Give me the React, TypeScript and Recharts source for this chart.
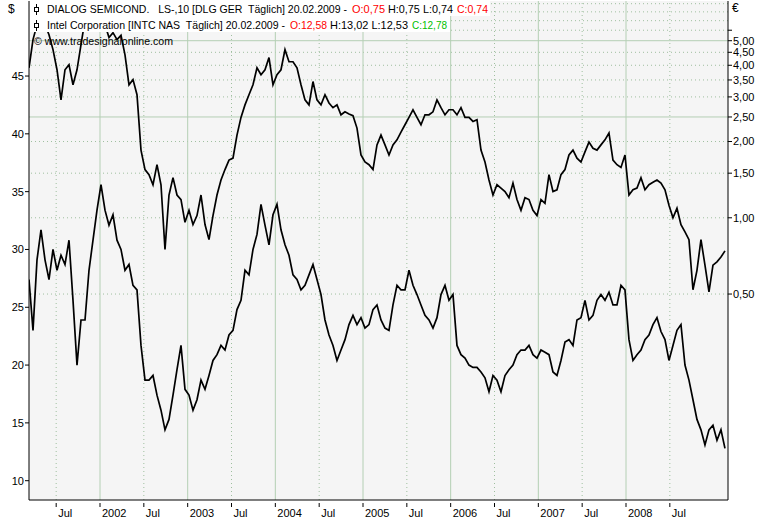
import React from "react"
import { LineChart, Line, XAxis, YAxis, ReferenceLine, CartesianGrid } from "recharts"

// time grid: decimal years, one sample every ~16.7 days
const START_T = 2001.19
const STEP_T = 0.045626
const END_T = 2009.1635

// DIALOG SEMICOND. (EUR, right log axis)
const dialog = [
  3.91, 5.05, 5.78, 6.05, 5.78, 5.28, 4.61, 3.84, 2.92, 3.84,
  4.02, 3.35, 3.84, 4.83, 6.05, 6.63, 6.34, 6.94, 6.63, 5.78,
  5.15, 5.38, 5.05, 5.25, 4.4, 3.35, 3.51, 3.06, 1.85, 1.55,
  1.48, 1.35, 1.62, 1.35, 0.75, 1.23, 1.44, 1.23, 1.18, 0.96,
  1.07, 0.94, 1.02, 1.23, 0.94, 0.82, 1.02, 1.23, 1.41, 1.55,
  1.69, 1.72, 2.12, 2.49, 2.79, 3.06, 3.35, 3.91, 3.67, 3.84,
  4.29, 3.35, 3.67, 3.84, 4.61, 4.13, 4.13, 3.91, 3.35, 2.92,
  2.79, 3.45, 2.92, 2.79, 3.06, 2.84, 2.72, 2.79, 2.55, 2.62,
  2.57, 2.53, 2.26, 1.77, 1.66, 1.62, 1.55, 1.94, 2.12, 1.94,
  1.77, 1.94, 2.03, 2.18, 2.33, 2.49, 2.67, 2.49, 2.33, 2.55,
  2.55, 2.62, 2.92, 2.72, 2.55, 2.67, 2.67, 2.55, 2.72, 2.49,
  2.49, 2.4, 2.44, 1.85, 1.66, 1.41, 1.23, 1.35, 1.31, 1.27,
  1.2, 1.37, 1.18, 1.07, 1.2, 1.18, 1.07, 1.02, 1.18, 1.14,
  1.48, 1.27, 1.29, 1.48, 1.55, 1.77, 1.85, 1.72, 1.66, 1.82,
  1.99, 1.88, 1.85, 1.94, 2.03, 2.16, 1.69, 1.62, 1.58, 1.77,
  1.23, 1.29, 1.31, 1.44, 1.29, 1.35, 1.38, 1.41, 1.37, 1.29,
  1.12, 1.0, 1.09, 0.94, 0.88, 0.82, 0.52, 0.62, 0.82, 0.65,
  0.51, 0.65, 0.67, 0.7, 0.74,
]

// Intel Corporation (USD, left axis)
const intel = [
  27.4, 23.0, 29.1, 31.7, 29.1, 27.4, 30.0, 28.2, 29.5, 28.7,
  30.8, 25.6, 20.0, 23.9, 23.9, 28.2, 30.8, 33.4, 35.6, 33.4,
  32.1, 33.0, 30.8, 30.0, 28.2, 28.7, 26.9, 26.5, 21.7, 18.7,
  18.7, 19.1, 17.4, 16.1, 14.4, 15.3, 17.4, 19.6, 21.7, 17.9,
  17.4, 16.1, 17.0, 18.7, 17.9, 19.1, 20.4, 20.9, 21.7, 21.3,
  22.6, 23.0, 24.8, 25.6, 28.2, 27.8, 30.0, 31.3, 33.9, 32.1,
  30.4, 33.0, 33.9, 31.7, 30.4, 29.5, 27.8, 27.4, 26.5, 26.9,
  27.8, 28.7, 27.4, 26.1, 23.9, 22.6, 21.7, 20.4, 21.3, 22.2,
  23.5, 24.3, 23.5, 24.1, 23.2, 23.5, 24.8, 25.2, 23.9, 23.2,
  23.0, 25.2, 26.9, 26.5, 26.5, 28.2, 26.9, 26.1, 25.2, 24.3,
  23.9, 23.2, 24.1, 26.1, 26.9, 25.6, 26.1, 21.7, 20.9, 20.6,
  20.0, 19.8, 19.8, 19.4, 18.9, 17.7, 19.1, 18.7, 17.7, 19.1,
  19.6, 20.0, 20.9, 21.3, 21.3, 21.7, 20.9, 20.6, 21.3, 21.1,
  20.9, 19.4, 19.1, 20.4, 22.0, 22.2, 21.7, 23.9, 24.1, 25.6,
  23.9, 24.3, 25.6, 26.1, 25.6, 26.3, 25.2, 25.2, 26.9, 26.5,
  22.2, 20.4, 20.9, 21.3, 22.2, 22.6, 23.5, 24.1, 22.9, 22.2,
  20.4, 21.7, 23.0, 23.5, 20.0, 18.7, 17.0, 15.3, 14.4, 13.1,
  14.4, 14.8, 13.5, 14.4, 12.8,
]

const yearTicks = [2002, 2003, 2004, 2005, 2006, 2007, 2008]
const julTicks = [2001.5, 2002.5, 2003.5, 2004.5, 2005.5, 2006.5, 2007.5, 2008.5]
const xTicks = [...julTicks, ...yearTicks].sort((a, b) => a - b)
const usdTicks = [10, 15, 20, 25, 30, 35, 40, 45]
const eurTicks = [0.5, 1, 1.5, 2, 2.5, 3, 3.5, 4, 4.5, 5, 5.5]
const eurGrid = [0.5, 1, 1.5, 2, 3, 3.5, 4, 4.5, 5.5, 6, 6.5, 7]
const eurMajor = [2.5, 5]

// legend pieces: text, colour, x, width
const legendDlg = [
  { s: "DIALOG SEMICOND.   LS-,10 [DLG GER  Täglich] 20.02.2009 -", c: "#000", x: 47, w: 300 },
  { s: "O:0,75", c: "#ff0000", x: 352, w: 33 },
  { s: "H:0,75 L:0,74", c: "#000", x: 388, w: 65 },
  { s: "C:0,74", c: "#ff0000", x: 457, w: 31 },
]
const legendIntc = [
  { s: "Intel Corporation [INTC NAS  Täglich] 20.02.2009 -", c: "#000", x: 47, w: 238 },
  { s: "O:12,58", c: "#ff0000", x: 290, w: 37 },
  { s: "H:13,02 L:12,53", c: "#000", x: 330, w: 78 },
  { s: "C:12,78", c: "#00c000", x: 412, w: 35 },
]

const data = intel.map((v, i) => ({
  t: START_T + i * STEP_T,
  intc: v,
  dlg: dialog[i],
}))

const FONT = "'Liberation Sans', Arial, sans-serif"
const GRID_SOLID = "#b4cfb4"
const GRID_DOT = "#9fbf9f"

const XTick = (props: any) => {
  const { x, y, payload } = props
  const v = payload.value
  const label = Number.isInteger(v) ? String(v) : "Jul"
  return (
    <g>
      <line x1={x} x2={x} y1={y + 3} y2={y + 7} stroke="#000" />
      <text x={x + 2} y={y + 17} fontSize={11} fontFamily={FONT} fill="#000">
        {label}
      </text>
    </g>
  )
}

const fmtEur = (v: number) => (v === 5.5 ? "" : v.toFixed(2).replace(".", ","))

function LegendRow({ parts, y }: { parts: typeof legendDlg; y: number }) {
  return (
    <>
      {parts.map((p) => (
        <text
          key={p.s}
          x={p.x}
          y={y}
          fontSize={10.5}
          fill={p.c}
          textLength={p.w}
          lengthAdjust="spacingAndGlyphs"
          style={{ whiteSpace: "pre" }}
        >
          {p.s}
        </text>
      ))}
    </>
  )
}

export default function App() {
  return (
    <div style={{ position: "absolute", left: 0, top: 0, width: 769, height: 520, background: "#fff" }}>
      <LineChart width={769} height={520} data={data} margin={{ top: 1, right: 0, bottom: 0, left: 0 }}>
        <CartesianGrid fill="#f5f5f5" horizontal={false} vertical={false} yAxisId="eur" />
        <XAxis
          dataKey="t"
          type="number"
          domain={[START_T, END_T]}
          allowDataOverflow
          ticks={xTicks}
          interval={0}
          tick={<XTick />}
          tickLine={false}
          tickSize={0}
          tickMargin={0}
          height={20}
          axisLine={{ stroke: "#000" }}
        />
        <YAxis
          yAxisId="usd"
          orientation="left"
          domain={[8.33, 51.49]}
          allowDataOverflow
          ticks={usdTicks}
          interval={0}
          width={29}
          tickSize={4}
          tickMargin={1}
          tickLine={{ stroke: "#000" }}
          axisLine={{ stroke: "#000" }}
          tick={{ fill: "#000", fontSize: 11, fontFamily: FONT }}
        />
        <YAxis
          yAxisId="eur"
          orientation="right"
          scale="log"
          domain={[0.0769, 7.174]}
          allowDataOverflow
          ticks={eurTicks}
          interval={0}
          width={41}
          tickSize={4}
          tickMargin={1}
          tickFormatter={fmtEur}
          tickLine={{ stroke: "#000" }}
          axisLine={{ stroke: "#000" }}
          tick={{ fill: "#000", fontSize: 11, fontFamily: FONT, textAnchor: "start" }}
        />
        {eurGrid.map((v) => (
          <ReferenceLine key={"g" + v} yAxisId="eur" y={v} stroke={GRID_DOT} strokeDasharray="1 3" ifOverflow="hidden" />
        ))}
        {julTicks.map((v) => (
          <ReferenceLine key={"j" + v} yAxisId="eur" x={v} stroke={GRID_DOT} strokeDasharray="1 3" ifOverflow="hidden" />
        ))}
        {eurMajor.map((v) => (
          <ReferenceLine key={"m" + v} yAxisId="eur" y={v} stroke={GRID_SOLID} ifOverflow="hidden" />
        ))}
        {yearTicks.map((v) => (
          <ReferenceLine key={"y" + v} yAxisId="eur" x={v} stroke={GRID_SOLID} ifOverflow="hidden" />
        ))}
        <Line
          yAxisId="eur"
          dataKey="dlg"
          type="linear"
          stroke="#000"
          strokeWidth={1.7}
          strokeLinejoin="miter"
          dot={false}
          isAnimationActive={false}
        />
        <Line
          yAxisId="usd"
          dataKey="intc"
          type="linear"
          stroke="#000"
          strokeWidth={1.7}
          strokeLinejoin="miter"
          dot={false}
          isAnimationActive={false}
        />
      </LineChart>
      <svg
        width={769}
        height={520}
        style={{ position: "absolute", left: 0, top: 0, pointerEvents: "none" }}
        fontFamily={FONT}
      >
        <text x={8} y={13} fontSize={12} fill="#000">$</text>
        <text x={732} y={12} fontSize={12} fill="#000">€</text>
        <rect x={30} y={1} width={460} height={15} fill="#fff" />
        <rect x={30} y={16} width={420} height={16} fill="#fff" />
        <line x1={36.5} x2={36.5} y1={4} y2={15} stroke="#000" />
        <rect x={34.5} y={7.5} width={4} height={4} fill="#fff" stroke="#000" />
        <line x1={36.5} x2={36.5} y1={20} y2={31} stroke="#000" />
        <rect x={34.5} y={23.5} width={4} height={4} fill="#fff" stroke="#000" />
        <LegendRow parts={legendDlg} y={13} />
        <LegendRow parts={legendIntc} y={29} />
        <text x={34} y={45} fontSize={11} fill="#000" textLength={139} lengthAdjust="spacingAndGlyphs">
          © www.tradesignalonline.com
        </text>
      </svg>
    </div>
  )
}
